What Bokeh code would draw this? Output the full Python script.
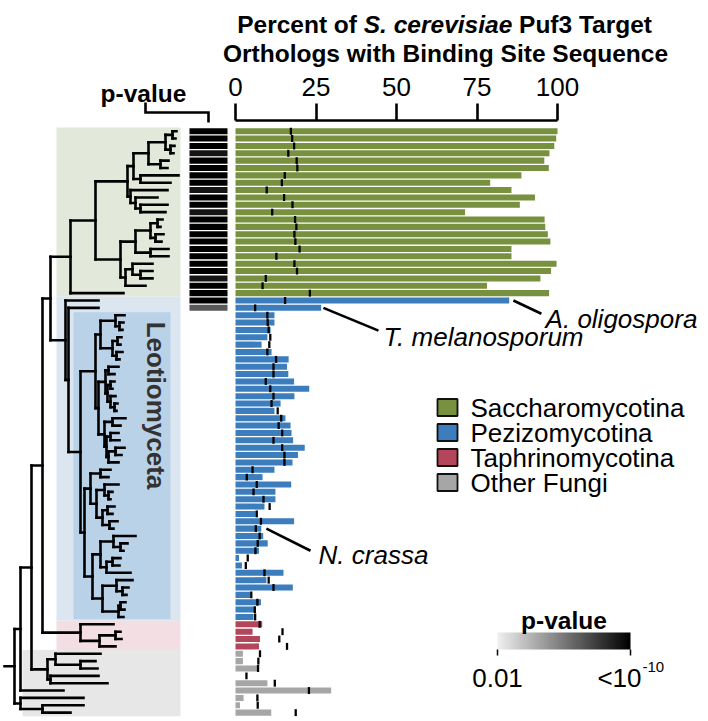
import numpy as np
from bokeh.plotting import figure
from bokeh.models import Range1d, LinearAxis, FixedTicker, LinearColorMapper, ColumnDataSource
from bokeh.core.properties import value
from bokeh.palettes import Greys256
from bokeh.embed import file_html
from bokeh.resources import INLINE

FONT = "Liberation Sans"

# ---------------- data ----------------
groups = ["Saccharomycotina", "Pezizomycotina", "Taphrinomycotina", "Other Fungi"]
group_colors = ["#77913f", "#3b7dbd", "#b4465c", "#a6a6a6"]
clade_fill = ["#e3e9da", "#dbe6f1", "#f3dfe3", "#e6e7e6"]
leo_fill = "#b9d2e8"

# percent of orthologs with the site (bars) and background expectation (black ticks)
sacch_pct = [100, 99.6, 99, 97.5, 95.9, 97.3, 88.8, 79.1, 85.7, 93.0, 88.3, 71.3, 96.0,
             96.2, 97.0, 97.8, 85.7, 85.7, 99.7, 98.0, 94.7, 78.1, 97.4]
sacch_bg = [17.2, 17.6, 18.2, 16.4, 19.0, 19.2, 15.3, 14.4, 9.7, 15.1, 17.7, 11.4, 18.5,
            18.9, 18.3, 18.6, 19.9, 12.7, 18.3, 19.1, 9.4, 8.4, 23.1]
pezizo_pct = [85.0, 26.6, 12.1, 12.1, 10.9, 9.9, 8.1, 11.2, 16.5, 16.0, 16.4, 18.2, 22.9,
              18.3, 14.0, 12.1, 15.5, 17.1, 17.4, 17.9, 21.5, 19.4, 17.7, 12.1, 8.4, 17.3,
              12.4, 12.4, 9.0, 6.3, 18.2, 8.0, 8.6, 10.0, 7.3, 1.1, 2.0, 14.9, 9.6, 17.8,
              4.6, 7.9, 5.9, 5.6]
pezizo_bg = [15.4, 6.1, 9.9, 10.0, 10.3, 10.8, 10.5, 9.9, 12.6, 11.8, 11.8, 9.4, 10.8, 11.8,
             11.2, 13.1, 14.2, 13.4, 14.5, 11.8, 14.5, 15.2, 15.2, 5.3, 3.5, 6.6, 5.6, 8.7,
             10.6, 6.6, 7.9, 6.3, 7.5, 6.9, 6.2, 3.8, 3.2, 9.0, 10.3, 11.8, 4.9, 6.8, 6.0, 6.1]
taphr_pct = [8.3, 5.3, 7.6, 7.3]
taphr_bg = [7.5, 14.6, 13.6, 16.0]
other_pct = [2.3, 2.3, 7.3, 0.0, 9.9, 29.7, 2.5, 1.4, 11.1]
other_bg = [7.6, 7.1, 7.0, 3.4, 12.2, 22.8, 6.8, 6.9, 18.7]

# -log10(p) of the enrichment for the rows that have one
pval_neglog = [10, 10, 10, 9.3, 10, 10, 10, 10, 9.3, 10, 10, 9.3, 10, 10, 10, 10, 10, 10,
               10, 10, 9.3, 10, 10, 10, 7.0]
pval_low, pval_high = 2, 10          # 0.01 ... <1e-10
pval_tick_labels = ["0.01", "<10"]

axis_ticks = [0, 25, 50, 75, 100]

# annotated species: row, label, leader-line end and label position (percent, row)
ann_rows = [23, 24, 54]
ann_text = ["A. oligospora", "T. melanosporum", "N. crassa"]
ann_gap = [1.3, 0.7, 1.6]
ann_end_x = [95.0, 44.4, 23.3]
ann_end_row = [24.8, 27.1, 57.0]
ann_x = [96.3, 46.0, 25.8]
ann_row = [25.45, 28.0, 57.6]

# phylogeny: leaves are row indices, internal nodes are (depth, children)
tree_tip_x = [176, 175, 174, 173, 168, 167, 178, 170, 167, 157, 167, 165, 162, 160, 163,
              161, 168, 168, 152, 152, 152, 145, 123,
              98, 98, 124, 123, 122, 121, 120, 122, 119, 118, 114, 114, 112, 115, 117, 116,
              125, 120, 118, 119, 124, 121, 118, 110, 108, 118, 112, 110, 114, 112, 117, 113,
              135, 127, 123, 120, 119, 130, 132, 128, 126, 125, 124, 123,
              113, 120, 121, 115,
              100, 95, 97, 98, 107, 63, 83, 83, 70]
sacch_upper = (127, [(133, [(148, [(165, [(172, [0, 1]), (170, [2, 3])]), (160, [4, 5])]),
                             (140, [6, 7])]),
                     (130, [8, (135, [9, (140, [10, 11])])])])
sacch_lower = (120, [(135, [(150, [(157, [12, 13]), (155, [14, 15])]), (150, [16, 17])]),
                     (125, [(132, [18, (140, [19, 20])]), 21])])
sacch_tree = (70, [(95, [sacch_upper, sacch_lower]), 22])
leo_P1 = (100, [(115, [25, (119, [26, 27])]), (112, [(117, [28, 29]), (116, [30, 31])])])
leo_P2a = (105, [(108, [32, 33]), (107, [(110, [34, 35]), (110, [36, (114, [37, 38])])])])
leo_P2b = (104, [(112, [39, 40]), (106, [(110, [41, 42]), (108, [(115, [43, 44]), 45])])])
leo_Q1 = (90, [(100, [46, 47]), (96, [(104, [48, (108, [49, 50])]),
                                      (102, [(107, [51, 52]), (109, [53, 54])])])])
leo_Q2 = (92, [(100, [(113, [55, (120, [56, 57])]), (106, [(112, [58, 59]), 60])]),
               (102, [(116, [61, (122, [62, 63])]), (118, [(120, [64, 65]), 66])])])
leo_tree = (80, [(95, [leo_P1, (98, [leo_P2a, leo_P2b])]), (84, [leo_Q1, leo_Q2])])
pezizo_tree = (65, [23, (68, [24, leo_tree])])
taphr_tree = (80, [67, (99, [(115, [68, 69]), 70])])
other_tree = (47, [(55, [71, (80, [72, 73])]), (50, [74, 75])])
tree = (14, [(20, [(31, [(42, [(50, [sacch_tree, pezizo_tree]), taphr_tree]), other_tree]), 76]),
             (20, [77, (42, [78, 79])])])
tree_root_x = 4

# clade shading: left edge (tree px), right edge
clade_left = [56, 56, 56, 22]
clade_right = 180
leo_box = (73, 170, 24.6, 66.3)

# ---------------- layout (reference pixel frame) ----------------
W, H = 706, 719
X0, XS = 235.0, 3.22        # percent axis: 0% at px 235, px per percent
ROW0, PITCH = 130.7, 7.36   # row 0 centre, px per row

p = figure(width=W, height=H, x_range=Range1d(0, W), y_range=Range1d(H, 0),
           x_axis_type=None, y_axis_type=None, toolbar_location=None,
           output_backend="svg", min_border=0, outline_line_color=None)
p.grid.visible = False
p.extra_x_ranges = {"pct": Range1d((0 - X0) / XS, (W - X0) / XS)}
p.extra_y_ranges = {"rows": Range1d((H - ROW0) / PITCH, (0 - ROW0) / PITCH)}

# rows / groups
pct = sacch_pct + pezizo_pct + taphr_pct + other_pct
bg = sacch_bg + pezizo_bg + taphr_bg + other_bg
sizes = [len(sacch_pct), len(pezizo_pct), len(taphr_pct), len(other_pct)]
grp = np.repeat(np.arange(4), sizes)
rows = np.arange(len(pct))
bounds = np.concatenate([[0], np.cumsum(sizes)]) - 0.5

# clade shading
p.quad(left=clade_left, right=[clade_right] * 4, top=bounds[:-1], bottom=bounds[1:],
       fill_color=clade_fill, line_color=None, y_range_name="rows")
p.quad(left=[leo_box[0]], right=[leo_box[1]], top=[leo_box[2]], bottom=[leo_box[3]],
       fill_color=leo_fill, line_color=None, y_range_name="rows")

# tree
vx0, vy0, vx1, vy1 = [], [], [], []
def walk(node):
    if isinstance(node, int):
        return tree_tip_x[node], float(node)
    depth, kids = node
    pts = [walk(k) for k in kids]
    vx0.append(depth); vy0.append(pts[0][1]); vx1.append(depth); vy1.append(pts[-1][1])
    for cx, cy in pts:
        vx0.append(depth); vy0.append(cy); vx1.append(cx); vy1.append(cy)
    return depth, (pts[0][1] + pts[-1][1]) / 2
rx, ry = walk(tree)
vx0.append(tree_root_x); vy0.append(ry); vx1.append(rx); vy1.append(ry)
p.segment(x0=vx0, y0=vy0, x1=vx1, y1=vy1, line_color="black", line_width=2.6,
          line_cap="square", y_range_name="rows")

p.text(x=[155], y=[405], text=["Leotiomyceta"], angle=-np.pi / 2, text_align="center",
       text_baseline="middle", text_font=value(FONT), text_font_style="bold",
       text_font_size="26px", text_color="#333333")

# p-value column
grey_pal = list(reversed(Greys256))[16:]
mapper = LinearColorMapper(palette=grey_pal, low=pval_low, high=pval_high)
pv_src = ColumnDataSource(dict(y=list(range(len(pval_neglog))), pv=pval_neglog))
p.hbar(y="y", left=189, right=227, height=0.82, source=pv_src,
       fill_color={"field": "pv", "transform": mapper}, line_color=None, y_range_name="rows")

# bars
src = ColumnDataSource(dict(y=rows, v=pct, bg=bg, c=[group_colors[g] for g in grp],
                            y0=rows - 0.47, y1=rows + 0.47))
p.hbar(y="y", left=0, right="v", height=0.82, fill_color="c", line_color=None, source=src,
       x_range_name="pct", y_range_name="rows")
p.segment(x0="bg", x1="bg", y0="y0", y1="y1", line_color="black", line_width=2.3,
          source=src, x_range_name="pct", y_range_name="rows")

# species annotations
sx = [pct[r] + g for r, g in zip(ann_rows, ann_gap)]
p.segment(x0=sx, y0=[float(r) for r in ann_rows], x1=ann_end_x, y1=ann_end_row,
          line_color="black", line_width=2.6, x_range_name="pct", y_range_name="rows")
p.text(x=ann_x, y=ann_row, text=ann_text, text_font=value(FONT), text_font_style="italic",
       text_font_size="26px", text_baseline="middle", text_align="left",
       x_range_name="pct", y_range_name="rows")

# top axis
ax = LinearAxis(x_range_name="pct", fixed_location=120, bounds=(0, 100),
                ticker=FixedTicker(ticks=axis_ticks))
ax.major_tick_out = 17
ax.major_tick_in = 0
ax.minor_tick_out = 0
ax.minor_tick_in = 0
ax.axis_line_width = 2.6
ax.major_tick_line_width = 2.6
ax.axis_line_color = "black"
ax.major_tick_line_color = "black"
ax.major_label_text_font = FONT
ax.major_label_text_font_size = "26px"
ax.major_label_text_color = "black"
ax.major_label_standoff = 8
p.add_layout(ax, "above")

# title (bold, species in italics)
EM_B = {"P": .667, "e": .556, "r": .389, "c": .556, "n": .611, "t": .333, " ": .278, "o": .611,
        "f": .333, "S": .667, ".": .278, "v": .556, "i": .278, "s": .556, "a": .556, "u": .611,
        "3": .556, "T": .611, "g": .611}
def wb(s, size):
    return sum(EM_B[ch] for ch in s) * size
TS = 24.5
parts = ["Percent of ", "S. cerevisiae", " Puf3 Target"]
tot = sum(wb(s, TS) for s in parts)
cx = 445
xs_ = [cx - tot / 2, cx - tot / 2 + wb(parts[0], TS),
       cx - tot / 2 + wb(parts[0], TS) + wb(parts[1], TS) + wb(" ", TS)]
p.text(x=xs_, y=[24] * 3, text=["Percent of", "S. cerevisiae", "Puf3 Target"],
       text_font=value(FONT), text_font_style=["bold", "bold italic", "bold"],
       text_font_size=f"{TS}px", text_align="left", text_baseline="alphabetic")
p.text(x=[cx], y=[53], text=["Orthologs with Binding Site Sequence"], text_font=value(FONT),
       text_font_style="bold", text_font_size=f"{TS}px", text_align="center",
       text_baseline="alphabetic")

# p-value column header with bracket
p.text(x=[143], y=[93], text=["p-value"], text_font=value(FONT), text_font_style="bold",
       text_font_size=f"{TS}px", text_align="center", text_baseline="alphabetic")
p.line(x=[145, 145, 208, 208], y=[102, 112, 112, 122], line_color="black", line_width=2.6,
       line_join="miter")

# legend
leg_y = [407, 432, 457, 482]
p.rect(x=[447] * 4, y=leg_y, width=20, height=17, fill_color=group_colors,
       line_color="#111111", line_width=1.8)
p.text(x=[470] * 4, y=leg_y, text=groups, text_font=value(FONT), text_font_size="26px",
       text_baseline="middle", text_align="left")

# p-value colour scale
cb_x0, cb_w, cb_y0, cb_h = 497, 133, 632, 17
grad = np.linspace(pval_low, pval_high, 256)[None, :]
p.image(image=[grad], x=cb_x0, y=cb_y0, dw=cb_w, dh=cb_h, color_mapper=mapper)
tick_px = [cb_x0 + (v - pval_low) / (pval_high - pval_low) * cb_w for v in (pval_low, pval_high)]
p.segment(x0=tick_px, x1=tick_px, y0=[cb_y0 + cb_h] * 2, y1=[cb_y0 + cb_h + 6] * 2,
          line_color="black", line_width=1.5)
p.text(x=[cb_x0 + cb_w / 2], y=[620], text=["p-value"], text_font=value(FONT),
       text_font_style="bold", text_font_size=f"{TS}px", text_align="center",
       text_baseline="alphabetic")
p.text(x=[tick_px[0]], y=[677], text=[pval_tick_labels[0]], text_font=value(FONT),
       text_font_size="26px", text_align="center", text_baseline="alphabetic")
p.text(x=[tick_px[1] + 11], y=[677], text=[pval_tick_labels[1]], text_font=value(FONT),
       text_font_size="26px", text_align="right", text_baseline="alphabetic")
p.text(x=[tick_px[1] + 12], y=[666], text=["-10"], text_font=value(FONT),
       text_font_size="15px", text_align="left", text_baseline="alphabetic")

open("out.html", "w").write(file_html(p, INLINE))
